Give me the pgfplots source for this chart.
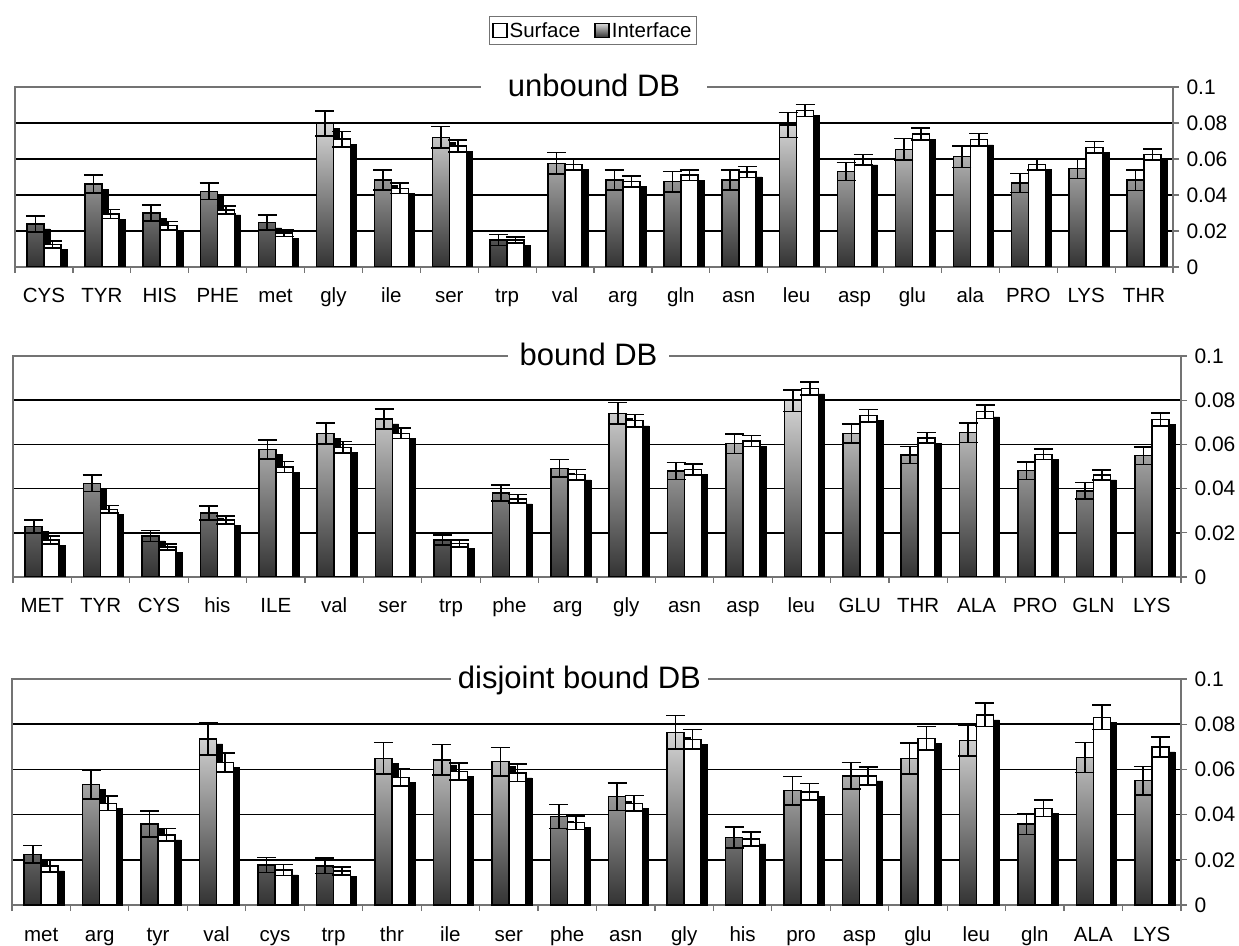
\documentclass[border=0pt]{standalone}
\usepackage{pgfplots}
\pgfplotsset{compat=1.18}
\usepackage{pgfplotstable}
\usepackage{fontspec}
\setmainfont{Liberation Sans}

\pgfplotstableread{
x ig ige sf sfe
0 0.0240 0.0044 0.0125 0.0019
1 0.0460 0.0050 0.0294 0.0025
2 0.0300 0.0043 0.0230 0.0023
3 0.0420 0.0046 0.0317 0.0023
4 0.0246 0.0042 0.0189 0.0020
5 0.0798 0.0070 0.0710 0.0042
6 0.0483 0.0056 0.0437 0.0028
7 0.0720 0.0060 0.0672 0.0032
8 0.0150 0.0030 0.0150 0.0017
9 0.0576 0.0060 0.0570 0.0030
10 0.0483 0.0056 0.0474 0.0030
11 0.0474 0.0056 0.0510 0.0030
12 0.0483 0.0056 0.0528 0.0030
13 0.0789 0.0070 0.0869 0.0034
14 0.0530 0.0050 0.0596 0.0030
15 0.0654 0.0060 0.0739 0.0033
16 0.0613 0.0060 0.0707 0.0035
17 0.0467 0.0053 0.0570 0.0030
18 0.0546 0.0054 0.0665 0.0033
19 0.0483 0.0057 0.0624 0.0030
}\tA

\pgfplotstableread{
x ig ige sf sfe
0 0.0228 0.0030 0.0167 0.0018
1 0.0424 0.0038 0.0306 0.0017
2 0.0186 0.0025 0.0136 0.0014
3 0.0290 0.0032 0.0258 0.0018
4 0.0578 0.0043 0.0498 0.0025
5 0.0650 0.0047 0.0587 0.0026
6 0.0716 0.0045 0.0650 0.0023
7 0.0167 0.0023 0.0152 0.0015
8 0.0379 0.0036 0.0354 0.0020
9 0.0492 0.0039 0.0463 0.0024
10 0.0740 0.0049 0.0707 0.0028
11 0.0480 0.0038 0.0486 0.0024
12 0.0603 0.0044 0.0615 0.0025
13 0.0798 0.0049 0.0852 0.0029
14 0.0649 0.0044 0.0730 0.0028
15 0.0552 0.0038 0.0629 0.0024
16 0.0653 0.0045 0.0748 0.0030
17 0.0481 0.0040 0.0555 0.0023
18 0.0390 0.0037 0.0462 0.0023
19 0.0549 0.0040 0.0712 0.0029
}\tB

\pgfplotstableread{
x ig ige sf sfe
0 0.0224 0.0039 0.0173 0.0026
1 0.0534 0.0064 0.0450 0.0031
2 0.0358 0.0057 0.0310 0.0028
3 0.0735 0.0072 0.0631 0.0042
4 0.0177 0.0034 0.0155 0.0024
5 0.0173 0.0034 0.0150 0.0018
6 0.0649 0.0070 0.0565 0.0038
7 0.0642 0.0068 0.0591 0.0038
8 0.0634 0.0063 0.0585 0.0039
9 0.0391 0.0053 0.0364 0.0030
10 0.0479 0.0060 0.0450 0.0035
11 0.0764 0.0074 0.0733 0.0044
12 0.0298 0.0046 0.0292 0.0030
13 0.0506 0.0063 0.0501 0.0037
14 0.0571 0.0059 0.0571 0.0040
15 0.0649 0.0069 0.0737 0.0052
16 0.0727 0.0069 0.0841 0.0052
17 0.0358 0.0046 0.0428 0.0037
18 0.0653 0.0066 0.0830 0.0054
19 0.0550 0.0063 0.0700 0.0044
}\tC

\tikzset{ttl/.style={fill=white, inner ysep=8pt, anchor=base, yshift=-10pt, font=\fontsize{31}{36}\selectfont}}

\pgfplotsset{
  panel/.style={
    scale only axis, anchor=south west,
    xmin=-0.5, xmax=19.5, ymin=0, ymax=0.1,
    clip mode=individual,
    xtick={0,...,19},
    minor xtick={-0.5,0.5,...,19.5},
    xtick pos=lower,
    ytick pos=right, yticklabel pos=right,
    tick align=outside,
    major tick length=6pt, minor tick length=6pt,
    major x tick style={draw=none},
    minor x tick style={draw=black!55, line width=1.2pt},
    y tick style={draw=black!55, line width=1.2pt},
    axis line style={draw=black!55, line width=1.3pt},
    ytick={0.02,0.04,0.06,0.08},
    extra y ticks={0,0.1},
    extra y tick style={grid=none},
    ymajorgrids,
    grid style={black, line width=1.6pt},
    scaled y ticks=false,
    yticklabel style={font=\fontsize{21}{24}\selectfont, xshift=4pt,
      /pgf/number format/fixed, /pgf/number format/precision=2,
      /pgf/number format/assume math mode=true},
    xticklabel style={font=\fontsize{20.5}{24}\selectfont, anchor=base, yshift=-30pt},
  },
  ebars/.style={mark=none, draw=none, forget plot,
    error bars/y dir=both, error bars/y explicit, error bars/error mark=|,
    error bars/error bar style={line width=1.6pt, draw=black, solid},
    error bars/error mark options={line width=1.6pt, mark size=9.5pt, draw=black}},
  shad/.style={ybar, bar width=17pt, fill=black, draw=black, line width=0.5pt, forget plot},
  intf/.style={ybar, bar width=17pt, bar shift=-8.5pt, top color=black!16, bottom color=black!80, draw=black, line width=1.5pt, forget plot},
  surf/.style={ybar, bar width=17pt, bar shift=8.5pt, fill=white, draw=black, line width=1.5pt, forget plot},
}

\begin{document}
\begin{tikzpicture}
\useasboundingbox (0,0) rectangle (1239pt,945pt);

% ---------- panel 1 ----------
\begin{axis}[panel, at={(15pt,678pt)}, width=1158pt, height=180pt,
  xticklabels={CYS,TYR,HIS,PHE,met,gly,ile,ser,trp,val,arg,gln,asn,leu,asp,glu,ala,PRO,LYS,THR},
  legend style={at={(0.499,1.314)}, anchor=center, legend columns=2, draw=black!55, line width=1pt,
    font=\fontsize{20.5}{24}\selectfont, inner xsep=3pt, inner ysep=4pt,
    /tikz/every even column/.append style={column sep=12pt}},
  after end axis/.code={\node[ttl, inner xsep=27pt] at (rel axis cs:0.5,1) {unbound DB};}]
\addlegendimage{legend image code/.code={\draw[fill=white, draw=black, line width=1.6pt] (0pt,-7pt) rectangle (14pt,7pt);}}
\addlegendentry{Surface}
\addlegendimage{legend image code/.code={\draw[top color=black!15, bottom color=black!80, draw=black, line width=1.6pt] (0pt,-7pt) rectangle (14pt,7pt);}}
\addlegendentry{Interface}
\addplot[shad, bar shift=-2.5pt] table[x=x,y expr=\thisrow{ig}-0.0028]{\tA};
\addplot[intf] table[x=x,y=ig]{\tA};
\addplot[shad, bar shift=14.5pt] table[x=x,y expr=\thisrow{sf}-0.0028]{\tA};
\addplot[surf] table[x=x,y=sf]{\tA};
\addplot[ebars] table[x expr=\thisrow{x}-0.1468,y=ig,y error=ige]{\tA};
\addplot[ebars] table[x expr=\thisrow{x}+0.1468,y=sf,y error=sfe]{\tA};
\end{axis}

% ---------- panel 2 ----------
\begin{axis}[panel, at={(13pt,368pt)}, width=1168pt, height=221pt,
  xticklabels={MET,TYR,CYS,his,ILE,val,ser,trp,phe,arg,gly,asn,asp,leu,GLU,THR,ALA,PRO,GLN,LYS},
  after end axis/.code={\node[ttl, inner xsep=12pt, xshift=-8.5pt] at (rel axis cs:0.5,1) {bound DB};}]
\addplot[shad, bar shift=-2.5pt] table[x=x,y expr=\thisrow{ig}-0.0023]{\tB};
\addplot[intf] table[x=x,y=ig]{\tB};
\addplot[shad, bar shift=14.5pt] table[x=x,y expr=\thisrow{sf}-0.0023]{\tB};
\addplot[surf] table[x=x,y=sf]{\tB};
\addplot[ebars] table[x expr=\thisrow{x}-0.1455,y=ig,y error=ige]{\tB};
\addplot[ebars] table[x expr=\thisrow{x}+0.1455,y=sf,y error=sfe]{\tB};
\end{axis}

% ---------- panel 3 ----------
\begin{axis}[panel, at={(12pt,40pt)}, width=1169pt, height=226pt,
  xticklabels={met,arg,tyr,val,cys,trp,thr,ile,ser,phe,asn,gly,his,pro,asp,glu,leu,gln,ALA,LYS},
  after end axis/.code={\node[ttl, inner xsep=7pt, xshift=-17pt] at (rel axis cs:0.5,1) {disjoint bound DB};}]
\addplot[shad, bar shift=-2.5pt] table[x=x,y expr=\thisrow{ig}-0.0022]{\tC};
\addplot[intf] table[x=x,y=ig]{\tC};
\addplot[shad, bar shift=14.5pt] table[x=x,y expr=\thisrow{sf}-0.0022]{\tC};
\addplot[surf] table[x=x,y=sf]{\tC};
\addplot[ebars] table[x expr=\thisrow{x}-0.1454,y=ig,y error=ige]{\tC};
\addplot[ebars] table[x expr=\thisrow{x}+0.1454,y=sf,y error=sfe]{\tC};
\end{axis}
\end{tikzpicture}
\end{document}
